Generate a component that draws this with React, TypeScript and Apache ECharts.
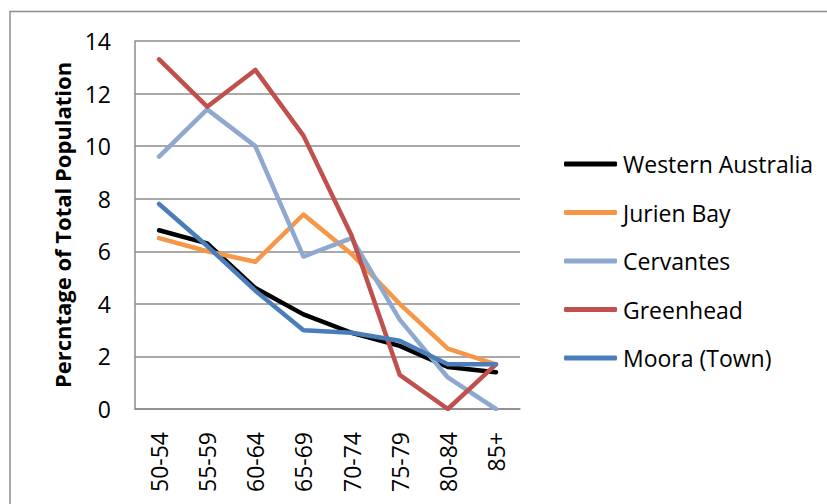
import React, { useEffect, useRef } from "react";
import * as echarts from "echarts";

// Age groups along the category axis
const ageGroups = ["50-54", "55-59", "60-64", "65-69", "70-74", "75-79", "80-84", "85+"];

// Percentage of total population in each age group
const westernAustralia = [6.8, 6.3, 4.6, 3.6, 2.9, 2.4, 1.6, 1.4];
const jurienBay = [6.5, 6.0, 5.6, 7.4, 5.9, 4.0, 2.3, 1.7];
const cervantes = [9.6, 11.4, 10.0, 5.8, 6.5, 3.4, 1.2, 0.0];
const greenhead = [13.3, 11.5, 12.9, 10.4, 6.6, 1.3, 0.0, 1.7];
const mooraTown = [7.8, 6.2, 4.5, 3.0, 2.9, 2.6, 1.7, 1.7];

const seriesNames = ["Western Australia", "Jurien Bay", "Cervantes", "Greenhead", "Moora (Town)"];
const seriesColors = ["#000000", "#F79646", "#8EA8D0", "#C0504D", "#4A7EBB"];
const seriesValues = [westernAustralia, jurienBay, cervantes, greenhead, mooraTown];

const FONT = "'Open Sans', 'Noto Sans', sans-serif";

export default function App() {
  const ref = useRef<HTMLDivElement>(null);

  useEffect(() => {
    if (!ref.current) return;
    const chart = echarts.init(ref.current, undefined, { renderer: "svg" });
    chart.setOption({
      animation: false,
      backgroundColor: "#ffffff",
      graphic: [
        {
          type: "rect",
          shape: { x: 10, y: 11.5, width: 830, height: 520 },
          style: { fill: "none", stroke: "#8c8c8c", lineWidth: 1.5 },
          silent: true,
        },
      ],
      grid: { left: 135, right: 307, top: 41, bottom: 95 },
      legend: {
        orient: "vertical",
        left: 559,
        top: 147.5,
        icon: "roundRect",
        itemWidth: 53,
        itemHeight: 5,
        itemGap: 25.5,
        data: seriesNames,
        textStyle: { fontFamily: FONT, fontSize: 23, color: "#000", padding: [0, 0, 0, 1] },
      },
      xAxis: {
        type: "category",
        data: ageGroups,
        boundaryGap: true,
        axisLine: { lineStyle: { color: "#8c8c8c", width: 1.5 } },
        axisTick: { show: false },
        axisLabel: {
          rotate: 90,
          margin: 23,
          fontFamily: FONT,
          fontSize: 23,
          color: "#000",
        },
      },
      yAxis: {
        type: "value",
        min: 0,
        max: 14,
        interval: 2,
        name: "Percntage of Total Population",
        nameLocation: "middle",
        nameGap: 62,
        nameTextStyle: { fontFamily: FONT, fontSize: 22, fontWeight: "bold", color: "#000" },
        axisLine: { show: true, lineStyle: { color: "#8c8c8c", width: 1.5 } },
        axisTick: { show: false },
        splitLine: { lineStyle: { color: "#8c8c8c", width: 1.5 } },
        axisLabel: { margin: 24, fontFamily: FONT, fontSize: 23, color: "#000" },
      },
      series: seriesNames.map((name, i) => ({
        name,
        type: "line",
        data: seriesValues[i],
        showSymbol: false,
        symbol: "none",
        color: seriesColors[i],
        lineStyle: { color: seriesColors[i], width: 4.5, join: "round", cap: "round" },
      })),
    });
    return () => chart.dispose();
  }, []);

  return <div ref={ref} style={{ width: 827, height: 504, position: "absolute", left: 0, top: 0 }} />;
}
